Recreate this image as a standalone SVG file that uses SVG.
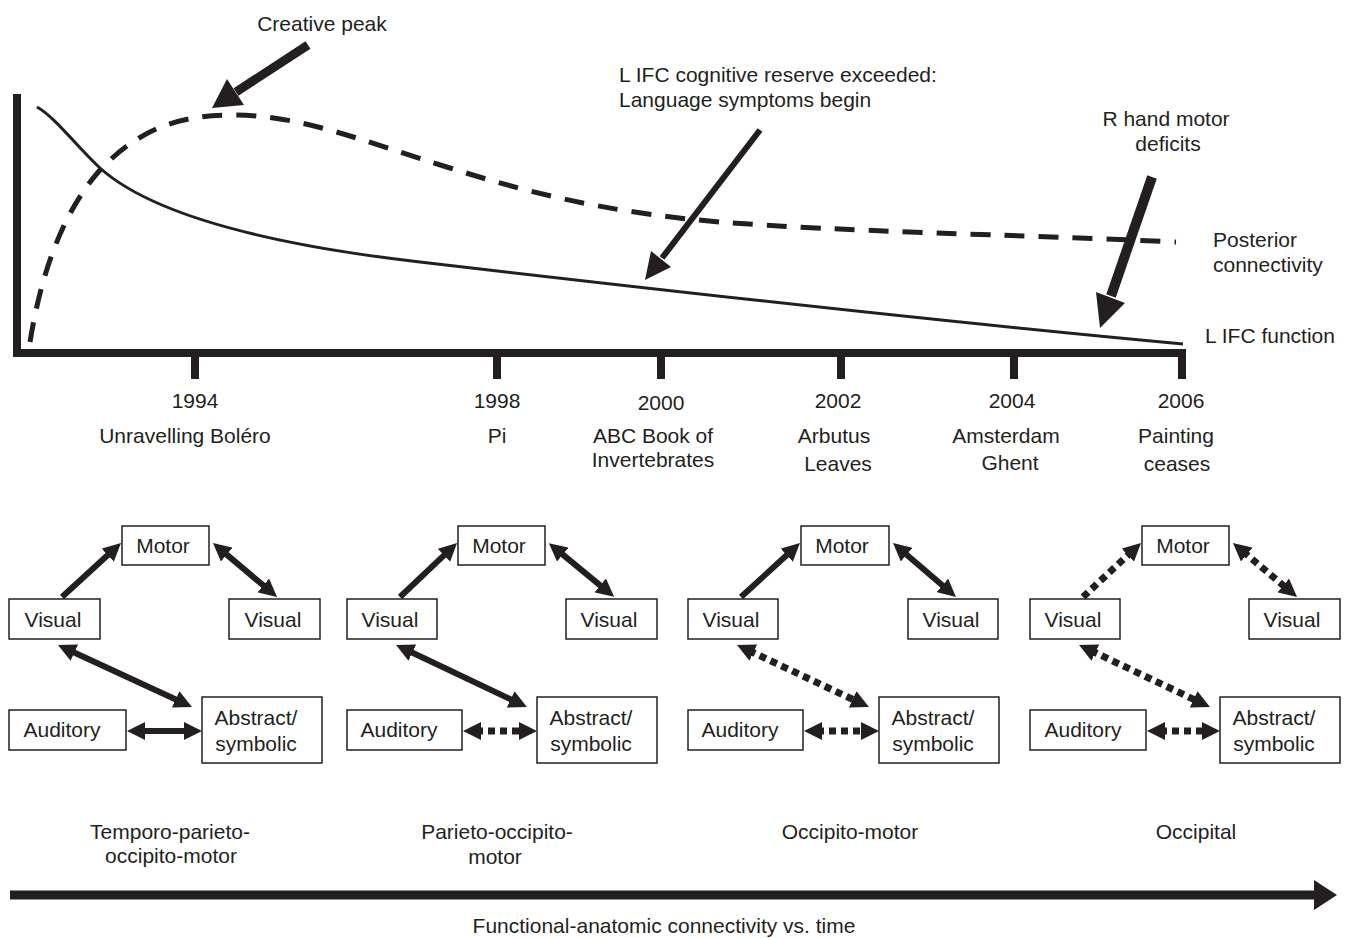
<svg xmlns="http://www.w3.org/2000/svg" width="1351" height="938" viewBox="0 0 1351 938">
<style>
text{font-family:"Liberation Sans",Arial,Helvetica,sans-serif;font-size:21px;fill:#231f20}
.m{text-anchor:middle}
.box{fill:#fff;stroke:#231f20;stroke-width:1.5}
.solid{stroke:#231f20;stroke-width:6;fill:none}
.dot{stroke:#231f20;stroke-width:7;fill:none;stroke-dasharray:7 5}
.curve{stroke:#231f20;stroke-width:3;fill:none}
.dash{stroke:#231f20;stroke-width:5;fill:none;stroke-dasharray:20 14}
.axis{stroke:#231f20;stroke-width:8;fill:none}
.head{fill:#231f20}
</style>
<defs>
<marker id="ah" viewBox="0 0 18 18" refX="5" refY="9" markerWidth="18" markerHeight="18" markerUnits="userSpaceOnUse" orient="auto-start-reverse">
<path d="M0,0 L18,9 L0,18 z" fill="#231f20"/>
</marker>
</defs>

<!-- Graph -->
<g id="graph">
<path class="axis" d="M17,94 V353 H1186"/>
<g id="ticks">
<path class="axis" d="M195,353 V379 M497,353 V379 M661,353 V379 M841,353 V379 M1014,353 V379 M1182,353 V379"/>
</g>
<path id="lifc-curve" class="curve" d="M37,107 C55,117 78,148 100,168 C140,204 230,240 420,262 C600,283 900,318 1183,344"/>
<path id="posterior-curve" class="dash" d="M30,342 C40,280 60,215 100,170 C140,128 180,115 233,115 C300,115 360,140 450,168 C520,190 600,212 720,222 C850,232 1000,234 1176,242"/>
</g>

<!-- Callout arrows -->
<g id="callouts">
<line x1="308" y1="45" x2="236" y2="92" stroke="#231f20" stroke-width="9"/>
<polygon class="head" points="212,108 244,105 227,79"/>
<line x1="760" y1="130" x2="662" y2="258" stroke="#231f20" stroke-width="6"/>
<polygon class="head" points="645,280 671,267 651,251"/>
<line x1="1152" y1="177" x2="1111" y2="296" stroke="#231f20" stroke-width="10"/>
<polygon class="head" points="1100,328 1125,303 1096,292"/>
</g>

<g id="graph-labels">
<text class="m" x="322" y="31">Creative peak</text>
<text x="619" y="82">L IFC cognitive reserve exceeded:</text>
<text x="619" y="107">Language symptoms begin</text>
<text class="m" x="1166" y="126">R hand motor</text>
<text class="m" x="1168" y="151">deficits</text>
<text x="1213" y="247">Posterior</text>
<text x="1213" y="272">connectivity</text>
<text x="1205" y="343">L IFC function</text>
</g>

<g id="timeline-labels">
<text class="m" x="195" y="408">1994</text>
<text class="m" x="185" y="443">Unravelling Boléro</text>
<text class="m" x="497" y="408">1998</text>
<text class="m" x="497" y="443">Pi</text>
<text class="m" x="661" y="410">2000</text>
<text class="m" x="653" y="443">ABC Book of</text>
<text class="m" x="653" y="467">Invertebrates</text>
<text class="m" x="838" y="408">2002</text>
<text class="m" x="834" y="443">Arbutus</text>
<text class="m" x="838" y="471">Leaves</text>
<text class="m" x="1012" y="408">2004</text>
<text class="m" x="1006" y="443">Amsterdam</text>
<text class="m" x="1010" y="470">Ghent</text>
<text class="m" x="1181" y="408">2006</text>
<text class="m" x="1176" y="443">Painting</text>
<text class="m" x="1177" y="471">ceases</text>
</g>

<!-- Network 1 -->
<g id="n1-motor"><rect class="box" x="122" y="526" width="87" height="39"/><text class="m" x="163" y="553">Motor</text></g>
<g id="n1-visual-left"><rect class="box" x="9" y="599" width="91" height="40"/><text class="m" x="53" y="627">Visual</text></g>
<g id="n1-visual-right"><rect class="box" x="229" y="599" width="91" height="40"/><text class="m" x="273" y="627">Visual</text></g>
<g id="n1-auditory"><rect class="box" x="9" y="710" width="117" height="40"/><text class="m" x="62" y="737">Auditory</text></g>
<g id="n1-abstract"><rect class="box" x="202" y="697" width="120" height="66"/><text class="m" x="256" y="725">Abstract/</text><text class="m" x="256" y="751">symbolic</text></g>

<!-- Network 2 -->
<g id="n2-motor"><rect class="box" x="458" y="526" width="87" height="39"/><text class="m" x="499" y="553">Motor</text></g>
<g id="n2-visual-left"><rect class="box" x="347" y="599" width="90" height="40"/><text class="m" x="390" y="627">Visual</text></g>
<g id="n2-visual-right"><rect class="box" x="566" y="599" width="91" height="40"/><text class="m" x="609" y="627">Visual</text></g>
<g id="n2-auditory"><rect class="box" x="347" y="710" width="115" height="40"/><text class="m" x="399" y="737">Auditory</text></g>
<g id="n2-abstract"><rect class="box" x="537" y="697" width="120" height="66"/><text class="m" x="591" y="725">Abstract/</text><text class="m" x="591" y="751">symbolic</text></g>

<!-- Network 3 -->
<g id="n3-motor"><rect class="box" x="801" y="526" width="88" height="39"/><text class="m" x="842" y="553">Motor</text></g>
<g id="n3-visual-left"><rect class="box" x="688" y="599" width="90" height="40"/><text class="m" x="731" y="627">Visual</text></g>
<g id="n3-visual-right"><rect class="box" x="908" y="599" width="90" height="40"/><text class="m" x="951" y="627">Visual</text></g>
<g id="n3-auditory"><rect class="box" x="688" y="710" width="115" height="40"/><text class="m" x="740" y="737">Auditory</text></g>
<g id="n3-abstract"><rect class="box" x="879" y="697" width="120" height="66"/><text class="m" x="933" y="725">Abstract/</text><text class="m" x="933" y="751">symbolic</text></g>

<!-- Network 4 -->
<g id="n4-motor"><rect class="box" x="1142" y="526" width="87" height="39"/><text class="m" x="1183" y="553">Motor</text></g>
<g id="n4-visual-left"><rect class="box" x="1030" y="599" width="90" height="40"/><text class="m" x="1073" y="627">Visual</text></g>
<g id="n4-visual-right"><rect class="box" x="1249" y="599" width="91" height="40"/><text class="m" x="1292" y="627">Visual</text></g>
<g id="n4-auditory"><rect class="box" x="1030" y="710" width="116" height="40"/><text class="m" x="1083" y="737">Auditory</text></g>
<g id="n4-abstract"><rect class="box" x="1220" y="697" width="120" height="66"/><text class="m" x="1274" y="725">Abstract/</text><text class="m" x="1274" y="751">symbolic</text></g>

<!-- Connectors -->
<g id="connectors">
<!-- n1 -->
<line class="solid" x1="62" y1="597" x2="111.4" y2="551.8" marker-end="url(#ah)"/>
<line class="solid" x1="222.9" y1="551.4" x2="267.1" y2="588.6" marker-start="url(#ah)" marker-end="url(#ah)"/>
<line class="solid" x1="69.8" y1="650.5" x2="180.2" y2="701.5" marker-start="url(#ah)" marker-end="url(#ah)"/>
<line class="solid" x1="140" y1="731" x2="189" y2="731" marker-start="url(#ah)" marker-end="url(#ah)"/>
<!-- n2 -->
<line class="solid" x1="400" y1="597" x2="447.6" y2="551.9" marker-end="url(#ah)"/>
<line class="solid" x1="558.9" y1="551.4" x2="604.1" y2="588.6" marker-start="url(#ah)" marker-end="url(#ah)"/>
<line class="solid" x1="407.8" y1="650.5" x2="515.2" y2="701.5" marker-start="url(#ah)" marker-end="url(#ah)"/>
<line class="dot" x1="476" y1="731" x2="524" y2="731" marker-start="url(#ah)" marker-end="url(#ah)"/>
<!-- n3 -->
<line class="solid" x1="741" y1="597" x2="790.4" y2="551.8" marker-end="url(#ah)"/>
<line class="solid" x1="902.9" y1="551.4" x2="946.1" y2="588.6" marker-start="url(#ah)" marker-end="url(#ah)"/>
<line class="dot" x1="748.8" y1="650.5" x2="857.2" y2="701.5" marker-start="url(#ah)" marker-end="url(#ah)"/>
<line class="dot" x1="817" y1="731" x2="866" y2="731" marker-start="url(#ah)" marker-end="url(#ah)"/>
<!-- n4 -->
<line class="dot" x1="1083" y1="597" x2="1131.5" y2="551.8" marker-end="url(#ah)"/>
<line class="dot" x1="1242.9" y1="551.4" x2="1287.1" y2="588.6" marker-start="url(#ah)" marker-end="url(#ah)"/>
<line class="dot" x1="1090.8" y1="650.5" x2="1198.2" y2="701.5" marker-start="url(#ah)" marker-end="url(#ah)"/>
<line class="dot" x1="1160" y1="731" x2="1207" y2="731" marker-start="url(#ah)" marker-end="url(#ah)"/>
</g>

<g id="network-labels">
<text class="m" x="170" y="839">Temporo-parieto-</text>
<text class="m" x="171" y="863">occipito-motor</text>
<text class="m" x="497" y="839">Parieto-occipito-</text>
<text class="m" x="495" y="864">motor</text>
<text class="m" x="850" y="839">Occipito-motor</text>
<text class="m" x="1196" y="839">Occipital</text>
</g>

<g id="time-arrow">
<line x1="10" y1="895" x2="1318" y2="895" stroke="#231f20" stroke-width="9"/>
<polygon class="head" points="1314,880 1337,895 1314,910"/>
<text class="m" x="664" y="933">Functional-anatomic connectivity vs. time</text>
</g>
</svg>
